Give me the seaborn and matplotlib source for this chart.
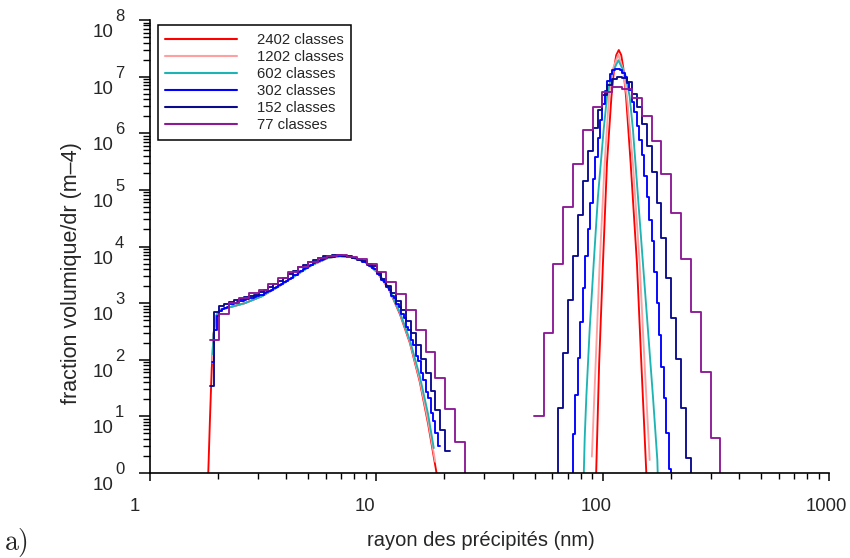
import numpy as np
import pandas as pd
import matplotlib
matplotlib.use("Agg")
import matplotlib.pyplot as plt
import seaborn as sns
from matplotlib.ticker import LogLocator, NullFormatter
from matplotlib.lines import Line2D

# ---------------- data ----------------
labels = ["2402 classes", "1202 classes", "602 classes",
          "302 classes", "152 classes", "77 classes"]
colors = ["#ff0000", "#ff9f9f", "#1fb4b4", "#0000ff", "#0a0a8c", "#8c1a96"]

# class grid of the histograms (first class edge in nm, class width in decades)
R0 = 1.833
dlog_302 = 0.01085
dlog_152 = 0.0217
dlog_77 = 0.0434

# step histograms: (first class index, log10 of the values, one per class)
h77_m1_start = 0
h77_m1 = [2.34, 2.81, 3.00, 3.09, 3.17, 3.23, 3.34, 3.44, 3.55, 3.64, 3.73, 3.79,
          3.84, 3.85, 3.82, 3.78, 3.69, 3.55, 3.38, 3.16, 2.87, 2.53, 2.13, 1.67,
          1.13, 0.54, -1]
h77_m2_start = 33
h77_m2 = [1.01, 2.48, 3.69, 4.69, 5.46, 6.06, 6.47, 6.72, 6.81, 6.78, 6.62, 6.31,
          5.87, 5.28, 4.60, 3.78, 2.85, 1.79, 0.62, -1]

h152_m1_start = 0
h152_m1 = [1.53, 2.85, 2.95, 2.99, 3.02, 3.05, 3.07, 3.10, 3.13, 3.15, 3.19, 3.23,
           3.28, 3.33, 3.39, 3.45, 3.51, 3.57, 3.63, 3.68, 3.73, 3.77, 3.80, 3.83,
           3.84, 3.85, 3.85, 3.84, 3.83, 3.80, 3.77, 3.74, 3.69, 3.65, 3.54, 3.42,
           3.30, 3.18, 3.04, 2.88, 2.69, 2.48, 2.26, 2.01, 1.76, 1.44, 1.11, 0.76,
           0.38]
h152_m2_start = 70
h152_m2 = [-1, 1.14, 2.12, 3.06, 3.83, 4.56, 5.16, 5.68, 6.09, 6.41, 6.68, 6.86,
           6.96, 7.00, 6.98, 6.91, 6.70, 6.47, 6.17, 5.78, 5.32, 4.77, 4.15, 3.45,
           2.73, 2.01, 1.14, 0.26, -1]

h302_m1_start = 1
h302_m1 = [1.96, 2.53, 2.77, 2.86, 2.90, 2.92, 2.94, 2.99, 2.99, 3.01,
           3.02, 3.04, 3.04, 3.06, 3.07, 3.09, 3.09, 3.11, 3.12, 3.15,
           3.15, 3.18, 3.19, 3.22, 3.23, 3.27, 3.28, 3.32, 3.34, 3.38,
           3.39, 3.43, 3.44, 3.49, 3.50, 3.55, 3.57, 3.61, 3.62, 3.66,
           3.67, 3.71, 3.72, 3.75, 3.76, 3.78, 3.79, 3.81, 3.81, 3.82,
           3.83, 3.83, 3.84, 3.84, 3.83, 3.82, 3.82, 3.80, 3.80, 3.78,
           3.77, 3.73, 3.72, 3.68, 3.66, 3.62, 3.60, 3.52, 3.49, 3.40,
           3.37, 3.28, 3.24, 3.13, 3.09, 2.98, 2.94, 2.80, 2.74, 2.58,
           2.52, 2.34, 2.26, 2.07, 1.98, 1.77, 1.64, 1.43, 1.33, 1.06,
           0.92, 0.71, 0.48]
h302_m2_start = 147
h302_m2 = [-1, 0.69, 1.38, 2.03, 2.67, 3.27, 3.83, 4.31, 4.77, 5.19, 5.58,
           5.92, 6.24, 6.52, 6.75, 6.93, 7.05, 7.12, 7.14, 7.14, 7.12,
           7.07, 7.00, 6.89, 6.77, 6.56, 6.38, 6.13, 5.88, 5.62, 5.24,
           4.88, 4.47, 4.09, 3.55, 3.00, 2.44, 1.87, 1.32, 0.71, 0.07, -1]

# fine classes drawn as curves: radius (nm) and log10 of the value
r2402_m1 = [1.809, 1.840, 1.873, 1.907, 1.956, 2.038, 2.217, 2.627, 3.113, 3.685,
            4.367, 5.176, 6.127, 6.901, 7.797, 8.897, 10.05, 11.36, 12.70, 14.06,
            15.56, 16.93, 18.45]
e2402_m1 = [0, 0.94, 1.82, 2.44, 2.77, 2.88, 2.92, 3.00, 3.12, 3.29, 3.48, 3.67,
            3.80, 3.83, 3.81, 3.73, 3.55, 3.25, 2.81, 2.30, 1.61, 0.87, 0]
r2402_m2 = [93.6, 96.5, 100.3, 104.5, 109.3, 112.5, 114.8, 117.8, 120.8, 123.3,
            126.9, 132.9, 141.7, 148.2, 155.9]
e2402_m2 = [0, 1.94, 3.71, 5.48, 6.64, 7.16, 7.38, 7.47, 7.38, 7.16, 6.64, 5.48,
            3.71, 1.94, 0]

r1202_m1 = [1.885, 1.907, 1.956, 2.038, 2.217, 2.627, 3.113, 3.685, 4.367, 5.176,
            6.127, 6.901, 7.797, 8.897, 10.05, 11.36, 12.70, 14.06, 15.56, 16.93,
            18.2]
e1202_m1 = [1.95, 2.44, 2.77, 2.88, 2.92, 3.00, 3.12, 3.29, 3.48, 3.67, 3.80, 3.83,
            3.81, 3.73, 3.56, 3.26, 2.83, 2.32, 1.64, 0.92, 0.2]
r1202_m2 = [89.6, 93.1, 97.0, 102.0, 106.6, 111.1, 117.1, 122.9, 128.0, 136.1,
            145.7, 153.2, 161.3]
e1202_m2 = [0.29, 1.93, 3.70, 5.46, 6.65, 7.14, 7.39, 7.14, 6.65, 5.46, 3.70,
            1.93, 0.23]

r602_m1 = [1.895, 1.907, 1.956, 2.038, 2.217, 2.627, 3.113, 3.685, 4.367, 5.176,
           6.127, 6.901, 7.797, 8.897, 10.05, 11.36, 12.70, 14.06, 15.56, 16.93,
           17.94]
e602_m1 = [2.10, 2.44, 2.77, 2.88, 2.92, 3.00, 3.12, 3.29, 3.48, 3.67, 3.80, 3.83,
           3.81, 3.73, 3.56, 3.27, 2.84, 2.35, 1.71, 1.04, 0.44]
r602_m2 = [82.4, 83.3, 84.7, 87.6, 91.3, 95.3, 101.0, 104.5, 109.3, 117.3, 126.0,
           131.6, 136.1, 143.2, 150.6, 158.5, 166.8, 174.4, 175.4]
e602_m2 = [-0.12, 0.62, 1.35, 2.53, 3.71, 4.88, 6.06, 6.65, 7.03, 7.29, 7.03, 6.65,
           6.06, 4.88, 3.71, 2.53, 1.35, 0.23, -0.12]

x_ticks = [1, 10, 100, 1000]
x_ticklabels = ["1", "10", "100", "1000"]
y_exponents = list(range(0, 9))

# ---------------- tables ----------------
curve_rows = []
for lab, segs in [(labels[0], [(r2402_m1, e2402_m1), (r2402_m2, e2402_m2)]),
                  (labels[1], [(r1202_m1, e1202_m1), (r1202_m2, e1202_m2)]),
                  (labels[2], [(r602_m1, e602_m1), (r602_m2, e602_m2)])]:
    for s, (rr, ee) in enumerate(segs):
        for x, e in zip(rr, ee):
            curve_rows.append((lab, s, x, 10.0 ** e))
curves = pd.DataFrame(curve_rows, columns=["series", "seg", "r", "v"])

step_rows = []
for lab, dl, segs in [(labels[3], dlog_302, [(h302_m1_start, h302_m1), (h302_m2_start, h302_m2)]),
                      (labels[4], dlog_152, [(h152_m1_start, h152_m1), (h152_m2_start, h152_m2)]),
                      (labels[5], dlog_77, [(h77_m1_start, h77_m1), (h77_m2_start, h77_m2)])]:
    for s, (k0, ee) in enumerate(segs):
        k = np.arange(k0, k0 + len(ee) + 1)
        edges = R0 * 10.0 ** (dl * k)
        vals = 10.0 ** np.asarray(ee, dtype=float)
        vals = np.append(vals, vals[-1])
        for x, v in zip(edges, vals):
            step_rows.append((lab, s, x, v))
steps = pd.DataFrame(step_rows, columns=["series", "seg", "r", "v"])

# ---------------- figure ----------------
sns.set_style("ticks")
plt.rcParams["font.family"] = ["Liberation Sans", "DejaVu Sans"]
plt.rcParams["mathtext.fontset"] = "cm"

W, H = 850, 558
fig = plt.figure(figsize=(W / 100, H / 100), dpi=100)
L, R, B, T = 150, 829, 473, 20
ax = fig.add_axes([L / W, (H - B) / H, (R - L) / W, (B - T) / H])
ax.set_xscale("log")
ax.set_yscale("log")

pal = dict(zip(labels, colors))
lw = 1.35
sns.lineplot(data=curves, x="r", y="v", hue="series", units="seg", estimator=None,
             hue_order=labels[:3], palette=pal, lw=lw, legend=False, ax=ax)
sns.lineplot(data=steps, x="r", y="v", hue="series", units="seg", estimator=None,
             hue_order=labels[3:], palette=pal, lw=lw, legend=False, ax=ax,
             drawstyle="steps-post")

ax.set_xlim(1, 1000)
ax.set_ylim(1, 1e8)

sns.despine(ax=ax)
for sp in ["left", "bottom"]:
    ax.spines[sp].set_linewidth(1.2)
    ax.spines[sp].set_color("black")

ax.xaxis.set_major_locator(LogLocator(base=10, numticks=10))
ax.xaxis.set_minor_locator(LogLocator(base=10, subs=np.arange(2, 10), numticks=40))
ax.yaxis.set_major_locator(LogLocator(base=10, numticks=20))
ax.yaxis.set_minor_locator(LogLocator(base=10, subs=np.arange(2, 10), numticks=40))
ax.xaxis.set_major_formatter(NullFormatter())
ax.xaxis.set_minor_formatter(NullFormatter())
ax.yaxis.set_major_formatter(NullFormatter())
ax.yaxis.set_minor_formatter(NullFormatter())
ax.tick_params(axis="x", which="major", direction="out", length=6, width=1.1, color="black")
ax.tick_params(axis="x", which="minor", direction="out", length=4, width=1.0, color="black")
ax.tick_params(axis="y", which="major", direction="out", length=8, width=1.1, color="black")
ax.tick_params(axis="y", which="minor", direction="out", length=5, width=1.0, color="black")

# tick labels (Grapher style: "10" with a raised exponent)
ytr = ax.get_yaxis_transform()
for e in y_exponents:
    ax.annotate("10", xy=(0, 10.0 ** e), xycoords=ytr, xytext=(-37, -4),
                textcoords="offset pixels", ha="right", va="top", fontsize=13.5)
    ax.annotate(str(e), xy=(0, 10.0 ** e), xycoords=ytr, xytext=(-35, -1),
                textcoords="offset pixels", ha="left", va="baseline", fontsize=12)
xtr = ax.get_xaxis_transform()
x_label_shift = [-20, -21.5, -22.5, -23.5]
for x, t, dx in zip(x_ticks, x_ticklabels, x_label_shift):
    ax.annotate(t, xy=(x, 0), xycoords=xtr, xytext=(dx, -25),
                textcoords="offset pixels", ha="left", va="top", fontsize=13.3)

ax.set_xlabel("rayon des précipités (nm)", fontsize=14.5)
ax.xaxis.set_label_coords(0.4875, -0.128)
ax.set_ylabel("fraction volumique/dr (m–4)", fontsize=15.5)
ax.yaxis.set_label_coords(-0.100, 0.4408)

handles = [Line2D([], [], color=c, lw=1.5) for c in colors]
leg = ax.legend(handles, labels, loc="upper left", bbox_to_anchor=(0.0118, 0.988),
                borderaxespad=0, frameon=True, fancybox=False, framealpha=1,
                edgecolor="black", fontsize=10.7, handlelength=4.8,
                handletextpad=1.35, labelspacing=0.21, borderpad=0.5)
leg.get_frame().set_linewidth(1.1)

fig.text(4 / W, (H - 550) / H, r"$\mathrm{a)}$", fontsize=20, va="baseline", ha="left")

fig.savefig("out.png", dpi=100)
